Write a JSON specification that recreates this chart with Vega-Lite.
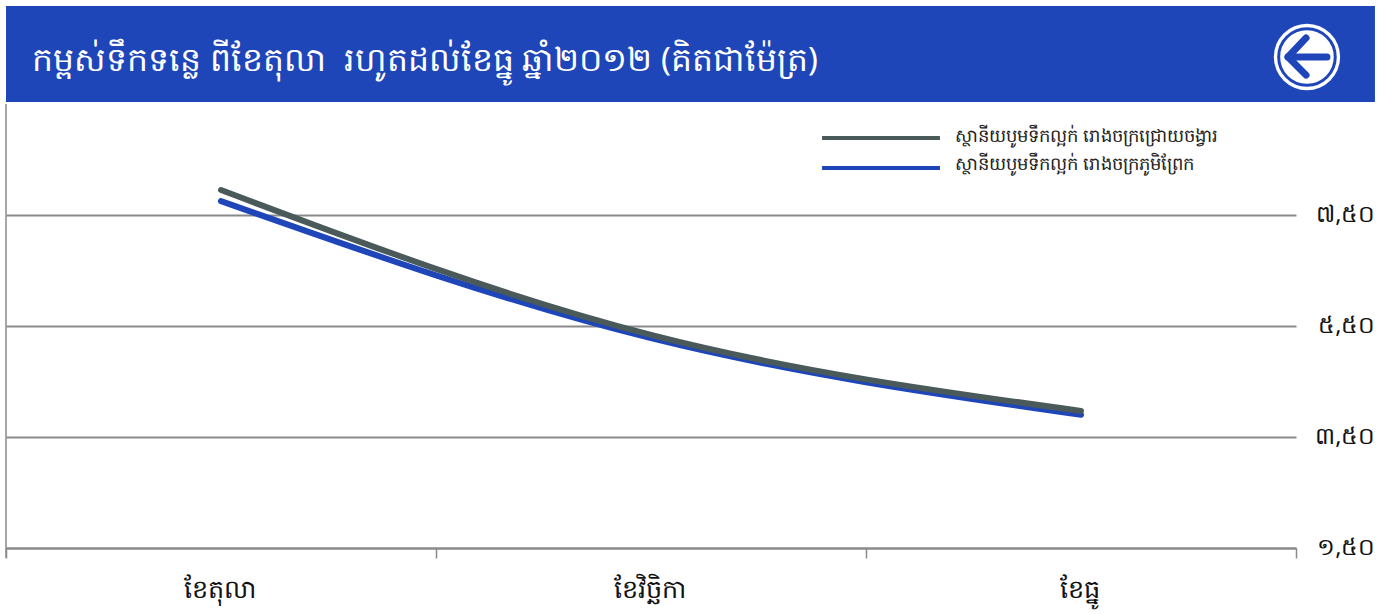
{"$schema":"https://vega.github.io/schema/vega-lite/v6.json","width":1290,"height":444,"autosize":"none","padding":{"left":6,"top":104,"right":87,"bottom":66},"background":"white","title":{"text":"កម្ពស់ទឹកទន្លេ ពីខែតុលា \u00a0រហូតដល់ខែធ្នូ ឆ្នាំ២០១២ (គិតជាម៉ែត្រ)","anchor":"start","frame":"group","dx":26,"offset":-88,"baseline":"middle","color":"white","fontSize":33.1,"fontWeight":"normal","font":"Noto Sans"},"config":{"view":{"stroke":null},"font":"Noto Sans"},"resolve":{"scale":{"x":"independent"}},"layer":[{"data":{"values":[{"a":0,"b":1.0612,"lo":9.536,"hi":11.266}]},"mark":{"type":"rect","color":"#1e46b9"},"encoding":{"x":{"field":"a","type":"quantitative","scale":{"domain":[0,1],"nice":false},"axis":null},"x2":{"field":"b"},"y":{"field":"lo","type":"quantitative","scale":{"domain":[1.5,9.5],"nice":false,"zero":false},"axis":{"orient":"right","values":[1.5,3.5,5.5,7.5],"title":null,"domain":false,"ticks":false,"grid":true,"gridColor":"#8a8a8a","gridWidth":2,"labelPadding":79,"labelAlign":"right","labelFontSize":23.5,"labelOffset":-1,"labelColor":"#111","labelExpr":"datum.value==7.5?'៧,៥០':datum.value==5.5?'៥,៥០':datum.value==3.5?'៣,៥០':'១,៥០'"}},"y2":{"field":"hi"}}},{"data":{"values":[{"a":0,"lo":1.32,"hi":9.5}]},"mark":{"type":"rule","color":"#8a8a8a","strokeWidth":1.5},"encoding":{"x":{"field":"a","type":"quantitative","scale":{"domain":[0,1],"nice":false},"axis":null},"y":{"field":"lo","type":"quantitative"},"y2":{"field":"hi"}}},{"data":{"values":[{"a":1.0085,"b":10.347}]},"mark":{"type":"point","filled":true,"color":"white","opacity":1,"size":4400},"encoding":{"x":{"field":"a","type":"quantitative","scale":{"domain":[0,1],"nice":false},"axis":null},"y":{"field":"b","type":"quantitative"}}},{"data":{"values":[{"a":1.0085,"b":10.347}]},"mark":{"type":"point","filled":false,"color":"#1e46b9","opacity":1,"size":3200,"strokeWidth":3},"encoding":{"x":{"field":"a","type":"quantitative","scale":{"domain":[0,1],"nice":false},"axis":null},"y":{"field":"b","type":"quantitative"}}},{"data":{"values":[{"s":"a","o":1,"a":1.0240,"b":10.347},{"s":"a","o":2,"a":0.9938,"b":10.347},{"s":"b","o":1,"a":1.0078,"b":10.69},{"s":"b","o":2,"a":0.9938,"b":10.347},{"s":"b","o":3,"a":1.0078,"b":10.02}]},"mark":{"type":"line","color":"#1e46b9","strokeWidth":7,"strokeCap":"round","strokeJoin":"round"},"encoding":{"x":{"field":"a","type":"quantitative","scale":{"domain":[0,1],"nice":false},"axis":null},"y":{"field":"b","type":"quantitative"},"detail":{"field":"s"},"order":{"field":"o"}}},{"data":{"values":[{"s":"ស្ថានីយបូមទឹកល្អក់ រោងចក្រជ្រោយចង្វារ","a":0.6326,"b":0.724,"k":8.887},{"s":"ស្ថានីយបូមទឹកល្អក់ រោងចក្រភូមិព្រែក","a":0.6326,"b":0.724,"k":8.347}]},"mark":{"type":"rule","strokeWidth":4},"encoding":{"x":{"field":"a","type":"quantitative","scale":{"domain":[0,1],"nice":false},"axis":null},"x2":{"field":"b"},"y":{"field":"k","type":"quantitative"},"color":{"field":"s","type":"nominal","legend":null}}},{"data":{"values":[{"s":"ស្ថានីយបូមទឹកល្អក់ រោងចក្រជ្រោយចង្វារ","a":0.7357,"k":8.905},{"s":"ស្ថានីយបូមទឹកល្អក់ រោងចក្រភូមិព្រែក","a":0.7357,"k":8.401}]},"mark":{"type":"text","align":"left","baseline":"middle","fontSize":18,"color":"#222"},"encoding":{"x":{"field":"a","type":"quantitative","scale":{"domain":[0,1],"nice":false},"axis":null},"y":{"field":"k","type":"quantitative"},"text":{"field":"s"}}},{"data":{"values":[{"m":"ខែតុលា","s":"ស្ថានីយបូមទឹកល្អក់ រោងចក្រភូមិព្រែក","v":7.75},{"m":"ខែវិច្ឆិកា","s":"ស្ថានីយបូមទឹកល្អក់ រោងចក្រភូមិព្រែក","v":5.28},{"m":"ខែធ្នូ","s":"ស្ថានីយបូមទឹកល្អក់ រោងចក្រភូមិព្រែក","v":3.9},{"m":"ខែតុលា","s":"ស្ថានីយបូមទឹកល្អក់ រោងចក្រជ្រោយចង្វារ","v":7.95},{"m":"ខែវិច្ឆិកា","s":"ស្ថានីយបូមទឹកល្អក់ រោងចក្រជ្រោយចង្វារ","v":5.34},{"m":"ខែធ្នូ","s":"ស្ថានីយបូមទឹកល្អក់ រោងចក្រជ្រោយចង្វារ","v":3.97}]},"mark":{"type":"line","interpolate":"monotone","strokeWidth":6,"strokeCap":"round"},"encoding":{"x":{"field":"m","type":"nominal","sort":["ខែតុលា","ខែវិច្ឆិកា","ខែធ្នូ"],"scale":{"type":"band","padding":0},"axis":{"title":null,"labelAngle":0,"tickBand":"extent","tickSize":10,"tickColor":"#8a8a8a","tickWidth":1.5,"domainColor":"#8a8a8a","domainWidth":2,"labelFontSize":25.5,"labelColor":"#111","labelPadding":19,"labelOffset":-2,"grid":false}},"y":{"field":"v","type":"quantitative"},"color":{"field":"s","type":"nominal","scale":{"domain":["ស្ថានីយបូមទឹកល្អក់ រោងចក្រជ្រោយចង្វារ","ស្ថានីយបូមទឹកល្អក់ រោងចក្រភូមិព្រែក"],"range":["#4a5a5a","#1e46b9"]},"legend":null}}}]}
